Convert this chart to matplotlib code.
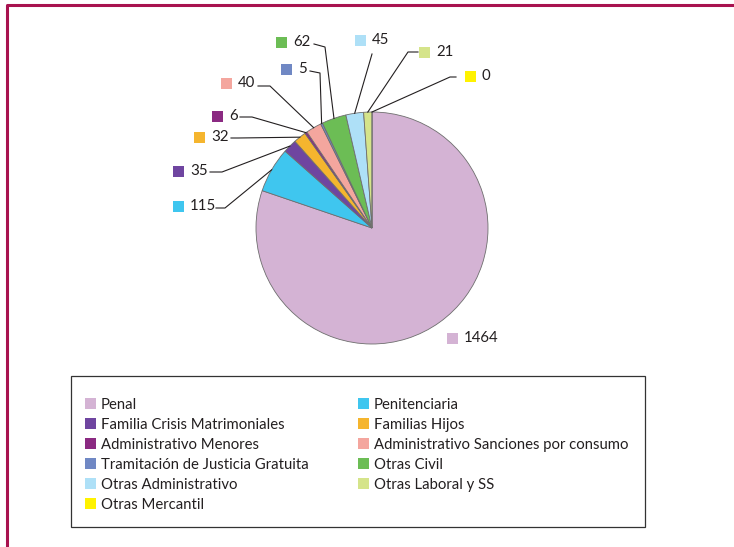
import matplotlib
matplotlib.use("Agg")
import matplotlib.pyplot as plt
from matplotlib.patches import Patch, Rectangle
from matplotlib.legend import Legend
import numpy as np

plt.rcParams['font.family'] = ['Lato', 'DejaVu Sans']

# datos
categorias = ["Penal", "Penitenciaria", "Familia Crisis Matrimoniales", "Familias Hijos",
              "Administrativo Menores", "Administrativo Sanciones por consumo",
              "Tramitación de Justicia Gratuita", "Otras Civil", "Otras Administrativo",
              "Otras Laboral y SS", "Otras Mercantil"]
valores = [1464, 115, 35, 32, 6, 40, 5, 62, 45, 21, 0]
colores = ["#d4b3d4", "#3fc6ef", "#6f45a0", "#f5b52e", "#8b2a82", "#f4a69e",
           "#7088c4", "#6cbd55", "#aee0f7", "#d5e48a", "#fff200"]

# posiciones de las etiquetas (pixeles, cuadrado de color) y de los codos de las lineas
etiq_x = [452, 178, 178, 199, 217, 226, 286, 281, 360, 424, 470]
etiq_y = [338, 206, 171, 137, 116, 83, 69, 42, 40, 52, 76]
inicio = [None, (216, 208), (210, 172), (231, 138), (240, 117), (258, 86), (310, 71),
          (314, 44), (372, 54), (418, 52), (456, 77)]
codo = [None, (225, 208), (222, 172), (238, 138), (252, 117), (270, 86), (320, 73),
        (325, 47), (372, 54), (408, 52), (450, 77)]

W, H = 734, 547
fig = plt.figure(figsize=(W / 100, H / 100), dpi=100)
ax = fig.add_axes([0, 0, 1, 1])


def px(x, y):
    return x, H - y


wedges, _ = ax.pie(valores, colors=colores, startangle=90, counterclock=False,
                   center=px(372, 228), radius=116,
                   wedgeprops=dict(edgecolor="#6e6e6e", linewidth=0.6))

# etiquetas de valores
for i, w in enumerate(wedges):
    sx, sy = px(etiq_x[i], etiq_y[i])
    ax.add_patch(Rectangle((sx - 5.5, sy - 5.5), 11, 11, facecolor=colores[i], edgecolor="none"))
    ax.text(sx + 12, sy, str(valores[i]), fontsize=10.8, color="#231f20",
            va="center", ha="left")
    if inicio[i] is not None:
        ang = np.deg2rad((w.theta1 + w.theta2) / 2)
        ex = w.center[0] + w.r * np.cos(ang)
        ey = w.center[1] + w.r * np.sin(ang)
        x0, y0 = px(*inicio[i])
        x1, y1 = px(*codo[i])
        ax.plot([x0, x1, ex], [y0, y1, ey], color="#231f20", lw=0.8)

# recuadro de la leyenda
x0, y0 = px(71, 527)
ax.add_patch(Rectangle((x0, y0), 645 - 71, 527 - 376, facecolor="none",
                       edgecolor="#333333", lw=0.9))

# leyenda en dos columnas (orden por filas)
col1 = list(range(0, 11, 2))
col2 = list(range(1, 11, 2))
for idx, xl in [(col1, 85), (col2, 358)]:
    hs = [Patch(facecolor=colores[i], edgecolor="none") for i in idx]
    lg = Legend(ax, hs, [categorias[i] for i in idx], loc="upper left",
                bbox_to_anchor=px(xl, 398), bbox_transform=ax.transData,
                frameon=False, fontsize=10.7, handlelength=0.75, handleheight=0.75,
                handletextpad=0.3, labelspacing=0.4, borderpad=0,
                borderaxespad=0, labelcolor="#231f20")
    ax.add_artist(lg)

# marco granate
ax.plot([7, 7, W], [0, H - 5, H - 5], color="#a8124f", lw=2.2, solid_capstyle="butt")

ax.set_xlim(0, W)
ax.set_ylim(0, H)
ax.set_aspect("auto")
ax.axis("off")

fig.savefig("out.png", dpi=100)
